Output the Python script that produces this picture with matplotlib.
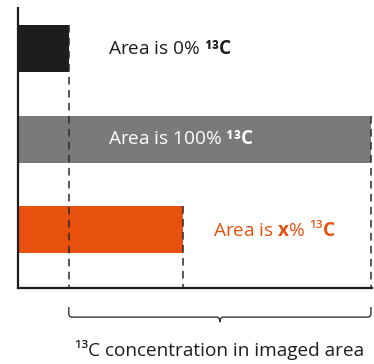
import matplotlib

matplotlib.use("Agg")
import matplotlib.pyplot as plt
from matplotlib.path import Path
from matplotlib.patches import PathPatch
from matplotlib.transforms import blended_transform_factory

plt.rcParams["font.family"] = ["Open Sans", "DejaVu Sans"]
plt.rcParams["mathtext.fontset"] = "custom"
plt.rcParams["mathtext.rm"] = "Open Sans"
plt.rcParams["mathtext.bf"] = "Open Sans:bold"
plt.rcParams["mathtext.it"] = "Open Sans:italic"

# bar lengths in arbitrary units (gray bar = full scale)
ROWS = ["0%", "100%", "x%"]
LENGTHS = [14.4, 100.0, 46.7]
LABELS = [
    r"Area is 0% $\mathbf{¹³C}$",
    r"Area is 100% $\mathbf{¹³C}$",
    r"Area is $\mathbf{x}$% ¹³$\mathbf{C}$",
]
X_LABEL = "¹³C concentration in imaged area"

BLACK = "#1d1d1b"
GRAY = "#7a7a7a"
ORANGE = "#e8500e"
COLORS = [BLACK, GRAY, ORANGE]
TEXT_COLORS = [BLACK, "white", ORANGE]
# vertical positions: top row first
YPOS = [2.0, 1.0, 0.0]
BAR_H = 0.52

fig = plt.figure(figsize=(3.74, 3.64), dpi=100, facecolor="white")
ax = fig.add_axes([18 / 374, 76 / 364, 354 / 374, 280 / 364])

ax.barh(YPOS, LENGTHS, height=BAR_H, color=COLORS, zorder=2)

ax.set_xlim(0, 100.3)
ax.set_ylim(-0.646, 2.448)

# dashed guide lines from bar ends down to the axis
for y, length in zip(YPOS, LENGTHS):
    ax.plot([length, length], [y + BAR_H / 2, -0.646], ls=(0, (5, 3.5)),
            color="#2a2a2a", lw=1.1, zorder=3, clip_on=False)

# labels
FS = 13.7
ax.text(25.5, YPOS[0], LABELS[0], color=TEXT_COLORS[0], fontsize=FS, va="center", ha="left")
ax.text(25.5, YPOS[1], LABELS[1], color=TEXT_COLORS[1], fontsize=FS, va="center", ha="left")
ax.text(55.2, YPOS[2], LABELS[2], color=TEXT_COLORS[2], fontsize=FS, va="center", ha="left")

for side in ["top", "right"]:
    ax.spines[side].set_visible(False)
for side in ["left", "bottom"]:
    ax.spines[side].set_linewidth(1.6)
    ax.spines[side].set_color(BLACK)
ax.set_xticks([])
ax.set_yticks([])

# brace under the axis spanning from the 0% end to the 100% end
x0, x1 = LENGTHS[0], LENGTHS[1]
xm = (x0 + x1) / 2
r = 0.9
ytop, ybar, ytip = -0.068, -0.104, -0.122
tr = blended_transform_factory(ax.transData, ax.transAxes)
verts = [
    (x0, ytop), (x0, ybar + 0.012), (x0, ybar), (x0 + r, ybar),
    (xm - r, ybar), (xm, ybar), (xm, ytip),
    (xm, ybar), (xm + r, ybar),
    (x1 - r, ybar), (x1, ybar), (x1, ybar + 0.012), (x1, ytop),
]
codes = [
    Path.MOVETO, Path.LINETO, Path.CURVE3, Path.CURVE3,
    Path.LINETO, Path.CURVE3, Path.CURVE3,
    Path.CURVE3, Path.CURVE3,
    Path.LINETO, Path.CURVE3, Path.CURVE3, Path.LINETO,
]
ax.add_patch(PathPatch(Path(verts, codes), transform=tr, fill=False,
                       edgecolor="#333333", lw=1.0, clip_on=False))

fig.text(220 / 374, 1 - 350 / 364, X_LABEL, ha="center", va="center",
         fontsize=FS, color=BLACK)

fig.savefig("out.png", dpi=100, facecolor="white")
